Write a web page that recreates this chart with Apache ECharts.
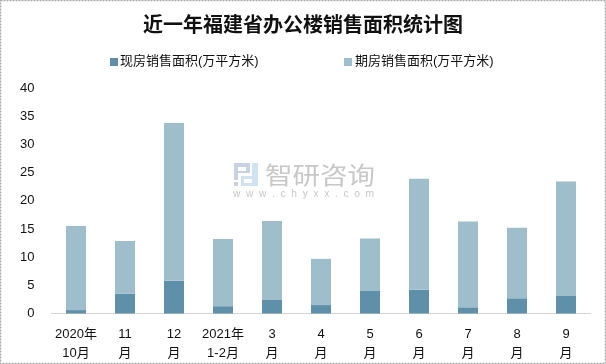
<!DOCTYPE html>
<html><head><meta charset="utf-8">
<style>html,body{margin:0;padding:0;background:#fff}#c{width:606px;height:364px}</style>
<script src="https://cdn.jsdelivr.net/npm/echarts@6/dist/echarts.min.js"></script></head>
<body><div id="c"></div>
<script>
const titleText = '近一年福建省办公楼销售面积统计图';
const categories = ['2020年\n10月','11\n月','12\n月','2021年\n1-2月','3\n月','4\n月','5\n月','6\n月','7\n月','8\n月','9\n月'];
const seriesNames = ['现房销售面积(万平方米)','期房销售面积(万平方米)'];
const spotSales = [0.6,3.5,5.8,1.3,2.4,1.5,4.0,4.2,1.1,2.7,3.1];
const futureSales = [14.9,9.35,28.0,11.9,14.0,8.2,9.3,19.7,15.2,12.5,20.3];
const font = '"Liberation Sans","Noto Sans CJK SC",sans-serif';
const iconGrey = '#c8d2e2', iconBlue = '#cfe3f2';
function block(x,y,width,height,fill){return {type:'rect',silent:true,z:50,shape:{x,y,width,height},style:{fill}};}
const chart = echarts.init(document.getElementById('c'), null, {renderer:'canvas'});
chart.setOption({
  animation:false,
  backgroundColor:'#fff',
  title:{text:titleText,left:'center',top:9,itemGap:0,
    textStyle:{fontFamily:'"Noto Sans CJK SC",sans-serif',fontSize:20,fontWeight:'bold',color:'#111'}},
  legend:{show:false},
  grid:{left:51.5,right:15.5,top:88,bottom:50.5},
  xAxis:{type:'category',data:categories,
    axisLine:{lineStyle:{color:'#d4d4d4',width:1}},axisTick:{show:false},
    axisLabel:{interval:0,margin:11,lineHeight:19,fontFamily:font,fontSize:13,color:'#111'}},
  yAxis:{type:'value',min:0,max:40,interval:5,
    axisLine:{show:false},axisTick:{show:false},splitLine:{show:false},
    axisLabel:{margin:17,padding:[2,0,0,0],fontFamily:font,fontSize:13,color:'#111'}},
  series:[
    {name:seriesNames[0],type:'bar',stack:'a',barWidth:20,data:spotSales,itemStyle:{color:'#5e91a9'}},
    {name:seriesNames[1],type:'bar',stack:'a',barWidth:20,data:futureSales,itemStyle:{color:'#9ebecc'}}
  ],
  graphic:[
    {type:'rect',silent:true,z:100,shape:{x:0.5,y:0.5,width:605,height:363},style:{fill:'none',stroke:'#a8a8a8',lineWidth:1.5,lineDash:[2,1]}},
    {type:'rect',silent:true,shape:{x:110,y:58,width:8,height:8},style:{fill:'#5e91a9'}},
    {type:'text',silent:true,style:{x:120,y:55,text:seriesNames[0],fontFamily:font,fontSize:13,fill:'#111'}},
    {type:'rect',silent:true,shape:{x:344,y:58,width:8,height:8},style:{fill:'#9ebecc'}},
    {type:'text',silent:true,style:{x:355,y:55,text:seriesNames[1],fontFamily:font,fontSize:13,fill:'#111'}},
    {type:'text',silent:true,z:50,x:265,y:163,scaleY:0.85,style:{x:0,y:0,text:'智研咨询',fontFamily:'"Noto Sans CJK SC",sans-serif',fontSize:27.5,fill:'#c8c8c8'}},
    {type:'text',silent:true,z:50,style:{x:233,y:189,text:'w  w  w  .  c  h  y  x  x  .  c  o  m',fontFamily:font,fontSize:10.2,fill:'#c8c8c8'}},
    block(234,163,16,4,iconGrey),block(234,163,4,17,iconGrey),block(246,163,4,10,iconGrey),block(238,171,12,2,iconGrey),block(234,182,4,4,iconGrey),
    block(252,163,6,23,iconBlue),block(241,176,17,3,iconBlue),block(241,176,3,10,iconBlue),block(241,183,17,3,iconBlue)
  ]
});
</script></body></html>
